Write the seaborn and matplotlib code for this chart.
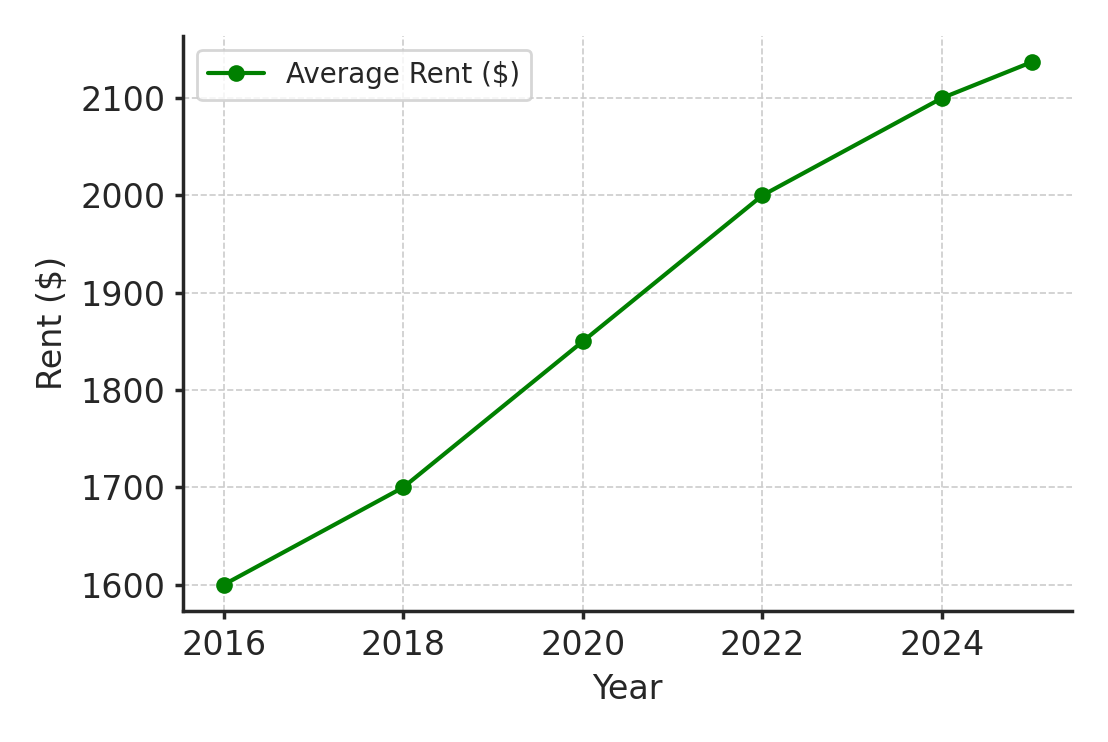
import seaborn as sns
import pandas as pd
import matplotlib.pyplot as plt

years = [2016, 2018, 2020, 2022, 2024, 2025]
rent = [1600, 1700, 1850, 2000, 2100, 2137]

df = pd.DataFrame({"Year": years, "Rent": rent})

sns.set_theme(style="ticks")
plt.rcParams['font.family'] = ['DejaVu Sans']

fig, ax = plt.subplots(figsize=(5.54, 3.71), dpi=200)
sns.lineplot(data=df, x="Year", y="Rent", marker="o", color="green", linewidth=1.5,
             markersize=6, markeredgewidth=0, label="Average Rent ($)", ax=ax)

ax.set_xticks([2016, 2018, 2020, 2022, 2024])
ax.set_yticks([1600, 1700, 1800, 1900, 2000, 2100])
ax.grid(True, linestyle="--", linewidth=0.6, color="#cccccc")
ax.set_xlabel("Year", fontsize=12)
ax.set_ylabel("Rent ($)", fontsize=12)
ax.tick_params(labelsize=12, direction="out", length=3)
sns.despine(ax=ax)
ax.legend(loc="upper left", fontsize=10)

fig.tight_layout()
fig.savefig("out.png", dpi=200)
